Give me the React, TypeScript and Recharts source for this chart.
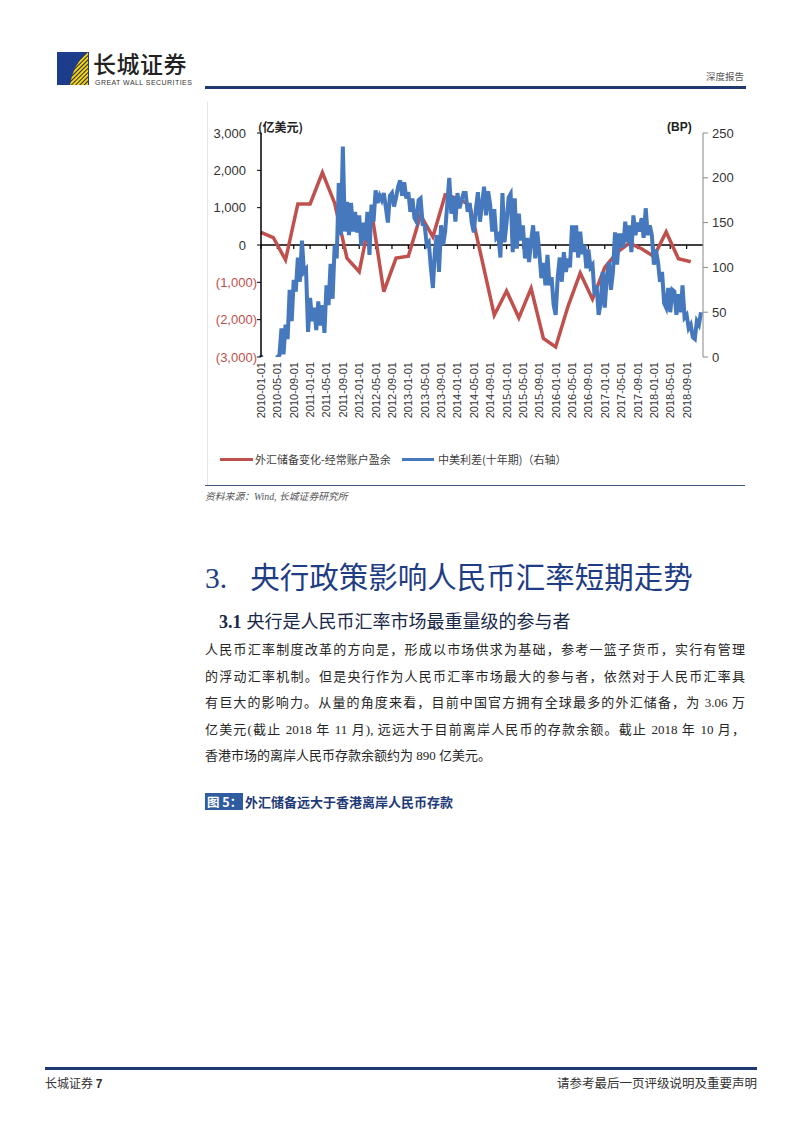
import React from "react";
import { LineChart, Line, XAxis, YAxis, ReferenceLine } from "recharts";

// x-axis tick labels, one every 4 months from 2010-01
const dateLabels = [
  "2010-01-01", "2010-05-01", "2010-09-01", "2011-01-01", "2011-05-01", "2011-09-01",
  "2012-01-01", "2012-05-01", "2012-09-01", "2013-01-01", "2013-05-01", "2013-09-01",
  "2014-01-01", "2014-05-01", "2014-09-01", "2015-01-01", "2015-05-01", "2015-09-01",
  "2016-01-01", "2016-05-01", "2016-09-01", "2017-01-01", "2017-05-01", "2017-09-01",
  "2018-01-01", "2018-05-01", "2018-09-01",
];

// 外汇储备变化-经常账户盈余 (亿美元), quarterly from 2010Q1
const reserveGap = [
  340, 200, -400, 1100, 1100, 1940, 1120, -350, -715, 910,
  -1250, -350, -300, 800, 220, 1340, 1250, 1070, -400, -1880,
  -1230, -1950, -1160, -2500, -2730, -1650, -750, -1450, -600, -200,
  50, -100, -310, 350, -370, -450,
];

// 中美利差(十年期) in BP, two readings per month
const spread2010 = [2, -10, -15, -20, -20, -15, -10, -5, 0, 2, 32, 3, 36, 20, 75, 40, 86, 73, 111, 84, 130, 95, 98, 28];
const spread2011 = [66, 40, 55, 30, 62, 35, 58, 27, 80, 58, 104, 65, 125, 110, 194, 136, 235, 140, 173, 136, 172, 140, 162, 139];
const spread2012 = [158, 124, 150, 130, 162, 114, 170, 151, 186, 172, 180, 175, 183, 167, 150, 180, 183, 168, 178, 190, 197, 180, 195, 177];
const spread2013 = [184, 162, 177, 155, 151, 175, 177, 148, 147, 125, 128, 100, 77, 120, 136, 95, 147, 125, 140, 170, 200, 160, 179, 151];
const spread2014 = [183, 166, 175, 183, 183, 162, 172, 150, 139, 165, 184, 151, 170, 190, 158, 185, 170, 140, 165, 133, 136, 111, 183, 128];
const spread2015 = [150, 178, 182, 117, 177, 121, 160, 130, 147, 110, 133, 106, 130, 147, 110, 140, 117, 88, 105, 80, 114, 80, 89, 58];
const spread2016 = [47, 89, 111, 84, 117, 95, 110, 100, 147, 117, 147, 111, 140, 115, 125, 99, 120, 100, 103, 69, 80, 47, 60, 95];
const spread2017 = [55, 90, 106, 75, 95, 139, 103, 136, 136, 122, 151, 128, 147, 117, 158, 136, 150, 140, 155, 133, 166, 136, 147, 136];
const spread2018 = [103, 120, 106, 84, 95, 60, 55, 77, 50, 75, 73, 47, 70, 50, 80, 44, 47, 32, 36, 22, 20, 40, 36, 50];

const leftTicks = [-3000, -2000, -1000, 0, 1000, 2000, 3000];
const rightTicks = [0, 50, 100, 150, 200, 250];

const spread = [
  ...spread2010, ...spread2011, ...spread2012, ...spread2013, ...spread2014,
  ...spread2015, ...spread2016, ...spread2017, ...spread2018,
];
const chartData = spread.map((v, i) => ({
  m: i / 2,
  spread: v,
  gap: i % 6 === 0 ? reserveGap[i / 6] : null,
}));
const tickMonths = dateLabels.map((_, i) => i * 4);

const RED = "#c0504d";
const BLUE = "#4678bd";
const SANS = "'Liberation Sans', Arial, sans-serif";
const CJK = "'Noto Sans CJK SC', sans-serif";
const BODY = "'Liberation Serif', 'Noto Sans CJK SC', serif";

const LeftTick = ({ x, y, payload }: any) => {
  const v = payload.value;
  const neg = v < 0;
  const txt = neg ? `(${Math.abs(v).toLocaleString("en-US")})` : v.toLocaleString("en-US");
  return (
    <text x={neg ? x : x - 11} y={y} dy="0.35em" textAnchor="end" fontSize={13} fontFamily={SANS} fill={neg ? RED : "#333"}>
      {txt}
    </text>
  );
};

const DateTick = ({ x, y, payload }: any) => (
  <text x={x} y={y} transform={`rotate(-90, ${x}, ${y})`} textAnchor="end" dominantBaseline="central" fontSize={11} fontFamily={SANS} fill="#333">
    {dateLabels[Math.round(payload.value / 4)]}
  </text>
);

function Chart() {
  return (
    <LineChart width={540} height={320} data={chartData} margin={{ top: 23, right: 2, bottom: 0, left: 0 }}>
      <XAxis dataKey="m" type="number" domain={[0, 108]} ticks={tickMonths} interval={0}
        tick={<DateTick />} tickLine={false} axisLine={false} tickSize={0} tickMargin={5} height={73} />
      <YAxis yAxisId="left" domain={[-3000, 3000]} ticks={leftTicks} interval={0} width={56}
        tick={<LeftTick />} axisLine={{ stroke: "#000", strokeWidth: 1.5 }} tickLine={{ stroke: "#000" }} tickSize={4} tickMargin={0} />
      <YAxis yAxisId="right" orientation="right" domain={[0, 250]} ticks={rightTicks} interval={0} width={40} allowDataOverflow
        tick={{ fontSize: 13, fill: "#333", fontFamily: SANS }} axisLine={{ stroke: "#888" }} tickLine={{ stroke: "#888" }} tickSize={5} tickMargin={4} />
      <ReferenceLine yAxisId="left" y={0} stroke="#000" strokeWidth={1.5} />
      {tickMonths.map((m) => (
        <ReferenceLine key={m} yAxisId="left" segment={[{ x: m, y: 0 }, { x: m, y: -110 }]} stroke="#000" strokeWidth={1.2} />
      ))}
      <Line yAxisId="left" dataKey="gap" stroke={RED} strokeWidth={3.5} dot={false} connectNulls isAnimationActive={false} />
      <Line yAxisId="right" dataKey="spread" stroke={BLUE} strokeWidth={4} dot={false} isAnimationActive={false} />
    </LineChart>
  );
}

const abs = (left: number, top: number, extra: React.CSSProperties = {}): React.CSSProperties => ({
  position: "absolute", left, top, ...extra,
});

const bodyLines = [
  "人民币汇率制度改革的方向是，形成以市场供求为基础，参考一篮子货币，实行有管理",
  "的浮动汇率机制。但是央行作为人民币汇率市场最大的参与者，依然对于人民币汇率具",
  "有巨大的影响力。从量的角度来看，目前中国官方拥有全球最多的外汇储备，为 3.06 万",
  "亿美元(截止 2018 年 11 月), 远远大于目前离岸人民币的存款余额。截止 2018 年 10 月，",
  "香港市场的离岸人民币存款余额约为 890 亿美元。",
];

export default function App() {
  return (
    <div style={{ position: "absolute", left: 0, top: 0, width: 802, height: 1133, background: "#fff", overflow: "hidden", color: "#222" }}>
      {/* header */}
      <svg style={abs(57, 52)} width={32} height={33}>
        <defs>
          <pattern id="hatch" width="3" height="3" patternUnits="userSpaceOnUse" patternTransform="rotate(45)">
            <rect width="3" height="3" fill="#f2d318" />
            <rect width="1" height="3" fill="#2a2a2a" />
          </pattern>
        </defs>
        <rect x={0} y={0} width={32} height={33} fill="#1d3d8c" />
        <polygon points="31,0 31,33 13,33 15,24 18,16 23,8" fill="url(#hatch)" />
      </svg>
      <div style={abs(93, 50, { fontFamily: CJK, fontSize: 23, fontWeight: 500, letterSpacing: 0.5, lineHeight: "26px" })}>长城证券</div>
      <div style={abs(95, 79, { fontFamily: SANS, fontSize: 7, letterSpacing: 0.45, lineHeight: "8px", color: "#333" })}>GREAT WALL SECURITIES</div>
      <div style={abs(706, 69, { fontFamily: CJK, fontSize: 9.5, color: "#555", lineHeight: "14px" })}>深度报告</div>
      <div style={abs(205, 86, { width: 541, height: 3, background: "#1f3a6e" })} />

      {/* chart box */}
      <div style={abs(207, 102, { width: 1, height: 384, background: "#e6e6e6" })} />
      <div style={abs(205, 110)}>
        <Chart />
      </div>
      <div style={abs(258, 119, { fontFamily: CJK, fontSize: 12, fontWeight: 700, color: "#222", lineHeight: "16px" })}>(亿美元)</div>
      <div style={abs(667, 119, { fontFamily: SANS, fontSize: 12, fontWeight: 700, color: "#222", lineHeight: "16px" })}>(BP)</div>

      {/* legend */}
      <div style={abs(220, 458, { width: 33, height: 3, background: RED })} />
      <div style={abs(255, 451, { fontFamily: CJK, fontSize: 11, color: "#404040", lineHeight: "16px" })}>外汇储备变化-经常账户盈余</div>
      <div style={abs(402, 458, { width: 32, height: 3, background: BLUE })} />
      <div style={abs(438, 451, { fontFamily: CJK, fontSize: 11, color: "#404040", lineHeight: "16px" })}>中美利差(十年期)（右轴）</div>
      <div style={abs(205, 485, { width: 540, height: 1, background: "#3d5a7e" })} />
      <div style={abs(205, 490, { fontFamily: BODY, fontSize: 9.8, fontStyle: "italic", color: "#555", lineHeight: "14px" })}>资料来源：Wind, 长城证券研究所</div>

      {/* section heading */}
      <div style={abs(205, 556, { fontSize: 29.5, color: "#1f3d85", lineHeight: "38px", whiteSpace: "nowrap" })}>
        <span style={{ fontFamily: "'Liberation Serif', serif" }}>3.</span>
        <span style={{ fontFamily: CJK, marginLeft: 23 }}>央行政策影响人民币汇率短期走势</span>
      </div>
      <div style={abs(219, 608, { fontSize: 18, color: "#1a2848", lineHeight: "24px", whiteSpace: "nowrap" })}>
        <span style={{ fontFamily: "'Liberation Serif', serif", fontWeight: 700 }}>3.1</span>
        <span style={{ fontFamily: CJK, marginLeft: 5 }}>央行是人民币汇率市场最重量级的参与者</span>
      </div>

      {/* body */}
      {bodyLines.map((line, i) => (
        <div key={i} style={abs(205, 638 + i * 26.6, {
          width: 540, fontFamily: BODY, fontSize: 13, lineHeight: "24px", color: "#262626", whiteSpace: "nowrap",
          textAlign: i < bodyLines.length - 1 ? "justify" : "left",
          textAlignLast: i < bodyLines.length - 1 ? "justify" : "left",
        } as React.CSSProperties)}>{line}</div>
      ))}

      {/* figure caption */}
      <div style={abs(205, 793, { width: 38, height: 17, background: "#2e5c9e" })} />
      <div style={abs(207, 793, { fontFamily: CJK, fontSize: 12.5, fontWeight: 700, color: "#fff", lineHeight: "17px" })}>图 5：</div>
      <div style={abs(245, 793, { fontFamily: CJK, fontSize: 13, fontWeight: 700, color: "#1f3a78", lineHeight: "17px" })}>外汇储备远大于香港离岸人民币存款</div>

      {/* footer */}
      <div style={abs(45, 1067, { width: 712, height: 3, background: "#1f3a6e" })} />
      <div style={abs(45, 1075, { fontFamily: CJK, fontSize: 12, color: "#333", lineHeight: "16px" })}>长城证券 <b style={{ fontFamily: SANS }}>7</b></div>
      <div style={abs(553, 1075, { width: 204, fontFamily: CJK, fontSize: 12.5, color: "#333", lineHeight: "16px", textAlign: "right", whiteSpace: "nowrap" })}>请参考最后一页评级说明及重要声明</div>
    </div>
  );
}
